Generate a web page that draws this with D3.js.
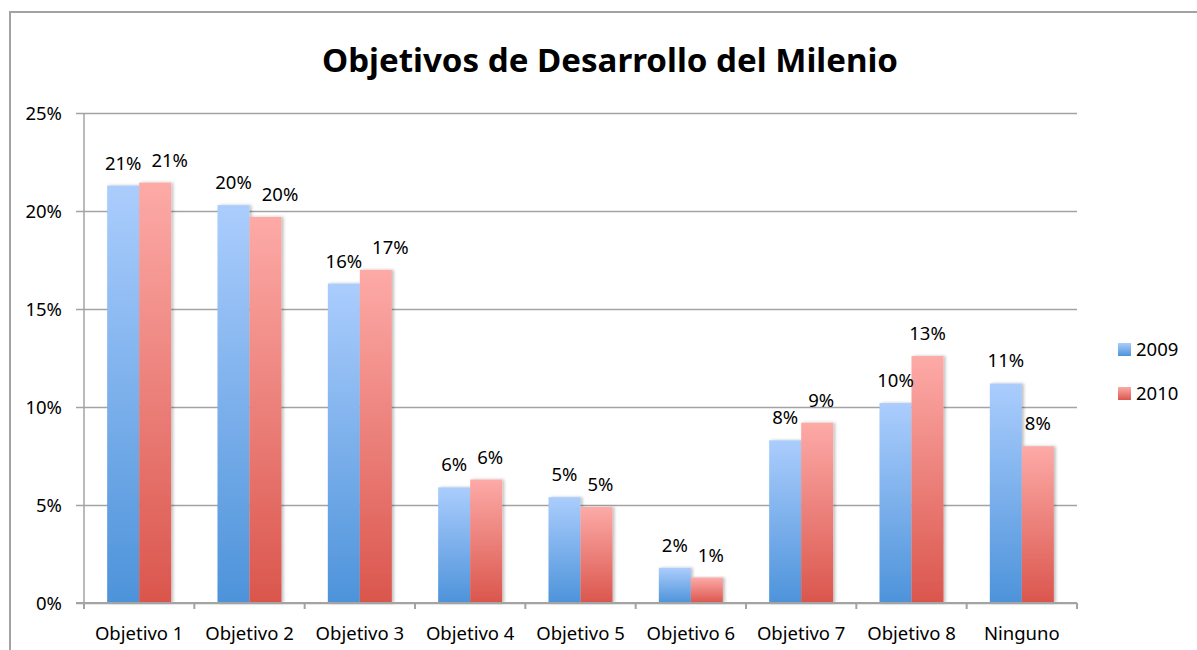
<!DOCTYPE html>
<html>
<head>
<meta charset="utf-8">
<script src="https://cdn.jsdelivr.net/npm/d3@7"></script>
<style>
  body { margin: 0; background: #fff; }
  text { font-family: "Noto Sans", sans-serif; fill: #000; }
</style>
</head>
<body>
<svg id="chart" width="1197" height="650"></svg>
<script>
// values
const categories = ["Objetivo 1", "Objetivo 2", "Objetivo 3", "Objetivo 4", "Objetivo 5",
                    "Objetivo 6", "Objetivo 7", "Objetivo 8", "Ninguno"];
const seriesNames = ["2009", "2010"];
const values2009 = [21.3, 20.3, 16.3, 5.9, 5.4, 1.8, 8.3, 10.2, 11.2];
const values2010 = [21.45, 19.7, 17.0, 6.3, 4.9, 1.3, 9.2, 12.6, 8.0];
const yTicks = [0, 5, 10, 15, 20, 25];
const title = "Objetivos de Desarrollo del Milenio";

const svg = d3.select("#chart");
const margin = {left: 84, right: 1077, top: 113, bottom: 603};
const fontSize = "18.5px";

// outer frame
svg.append("rect")
    .attr("x", 10).attr("y", 12)
    .attr("width", 1300).attr("height", 800)
    .attr("fill", "none").attr("stroke", "#a3a3a3").attr("stroke-width", 2);

// gradients
const defs = svg.append("defs");
const grads = [
  {id: "g2009", top: "#abcdfd", bottom: "#4d93da"},
  {id: "g2010", top: "#fdaaa7", bottom: "#da564d"}
];
grads.forEach(g => {
  const lg = defs.append("linearGradient").attr("id", g.id)
      .attr("x1", 0).attr("y1", 0).attr("x2", 0).attr("y2", 1);
  lg.append("stop").attr("offset", "0%").attr("stop-color", g.top);
  lg.append("stop").attr("offset", "100%").attr("stop-color", g.bottom);
});
const shadow = defs.append("filter").attr("id", "shadow")
    .attr("x", "-20%").attr("y", "-5%").attr("width", "140%").attr("height", "110%");
shadow.append("feDropShadow").attr("dx", 2).attr("dy", 0)
    .attr("stdDeviation", 1.5).attr("flood-color", "#000").attr("flood-opacity", 0.25);

const x = d3.scaleBand().domain(categories).range([margin.left, margin.right]);
const groupWidth = 64;
const x1 = d3.scaleBand().domain(seriesNames)
    .range([(x.bandwidth() - groupWidth) / 2, (x.bandwidth() + groupWidth) / 2]);
const y = d3.scaleLinear().domain([0, 25]).range([margin.bottom, margin.top]);

// title
svg.append("text")
    .attr("x", 610).attr("y", 72)
    .attr("text-anchor", "middle")
    .style("font-size", "32px").style("font-weight", "bold")
    .attr("textLength", 576).attr("lengthAdjust", "spacingAndGlyphs")
    .text(title);

// gridlines + y axis
const yAxis = svg.append("g")
    .attr("transform", `translate(${margin.left},0)`)
    .call(d3.axisLeft(y).tickValues(yTicks).tickFormat(d => d + "%")
      .tickSize(-(margin.right - margin.left)).tickPadding(14));
yAxis.select(".domain").remove();
yAxis.selectAll(".tick line").attr("stroke", "#a3a3a3").attr("stroke-width", 1.5)
    .attr("x1", -8);
yAxis.selectAll(".tick text").style("font-size", fontSize).attr("x", -22).attr("dy", "0.35em");
svg.append("line")
    .attr("x1", margin.left).attr("x2", margin.left)
    .attr("y1", margin.top).attr("y2", margin.bottom)
    .attr("stroke", "#a3a3a3").attr("stroke-width", 1.5);

// bars
const rows = categories.map((c, i) => ({cat: c, vals: [values2009[i], values2010[i]]}));
const groups = svg.append("g").selectAll("g")
    .data(rows).join("g")
    .attr("transform", d => `translate(${x(d.cat)},0)`);

groups.selectAll("rect")
    .data(d => d.vals.map((v, j) => ({series: seriesNames[j], v})))
    .join("rect")
    .attr("x", d => x1(d.series))
    .attr("width", x1.bandwidth())
    .attr("y", d => y(d.v))
    .attr("height", d => y(0) - y(d.v))
    .attr("fill", d => `url(#g${d.series})`)
    .attr("filter", "url(#shadow)");

// x axis
const xAxis = svg.append("g")
    .attr("transform", `translate(0,${margin.bottom})`);
xAxis.append("line")
    .attr("x1", margin.left - 8).attr("x2", margin.right)
    .attr("stroke", "#a3a3a3").attr("stroke-width", 2);
const boundaries = categories.map(c => x(c)).concat([margin.right]);
xAxis.selectAll(".tk").data(boundaries).join("line")
    .attr("x1", d => d).attr("x2", d => d).attr("y1", 0).attr("y2", 6)
    .attr("stroke", "#a3a3a3").attr("stroke-width", 2);
xAxis.selectAll(".lbl").data(categories).join("text")
    .attr("x", d => x(d) + x.bandwidth() / 2).attr("y", 37)
    .attr("text-anchor", "middle").style("font-size", fontSize)
    .text(d => d);

// data labels, shifting the second one right when it collides with the first
const labelLayer = svg.append("g");
rows.forEach(r => {
  let prev = null;
  r.vals.forEach((v, j) => {
    const cx = x(r.cat) + x1(seriesNames[j]) + x1.bandwidth() / 2;
    const by = y(v) - 16;
    const t = labelLayer.append("text")
        .attr("x", cx).attr("y", by)
        .attr("text-anchor", "middle").style("font-size", fontSize)
        .text(Math.round(v) + "%");
    const w = t.node().getComputedTextLength();
    let left = cx - w / 2;
    if (prev && Math.abs(prev.y - by) < 18 && left < prev.right + 10) {
      left = prev.right + 10;
      t.attr("x", left + w / 2);
    }
    prev = {right: left + w, y: by};
  });
});

// legend
const legend = svg.append("g").attr("transform", "translate(1118,343)");
seriesNames.forEach((s, i) => {
  const g = legend.append("g").attr("transform", `translate(0,${i * 44})`);
  g.append("rect").attr("width", 13).attr("height", 13).attr("fill", `url(#g${s})`);
  g.append("text").attr("x", 18).attr("y", 13).style("font-size", fontSize).text(s);
});
</script>
</body>
</html>
